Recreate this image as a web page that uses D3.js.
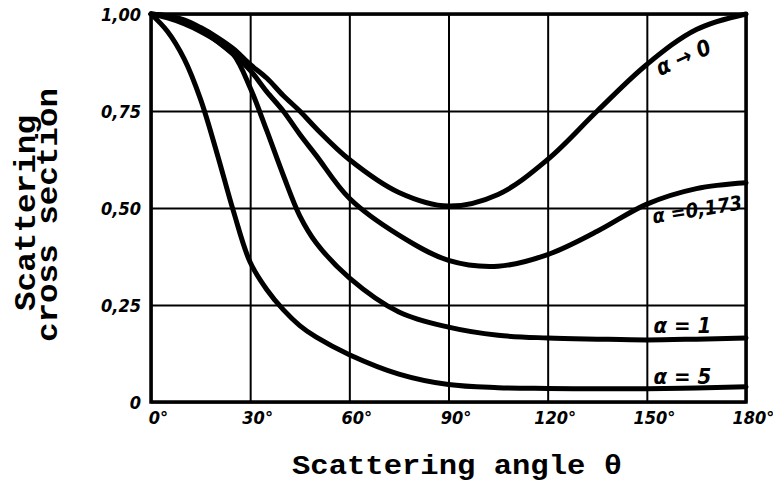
<!DOCTYPE html>
<html>
<head>
<meta charset="utf-8">
<script src="https://cdn.jsdelivr.net/npm/d3@7"></script>
<style>
  body { margin: 0; background: #fff; }
  svg { display: block; }
  .tick text { font-family: "Liberation Sans Narrow", "DejaVu Sans Condensed", sans-serif; font-weight: bold; font-style: italic; }
  .title { font-family: "Liberation Mono", "DejaVu Sans Mono", monospace; font-weight: bold; }
  .lbl { font-family: "Liberation Sans Narrow", "DejaVu Sans Condensed", sans-serif; font-weight: bold; font-style: italic; font-size: 22px; }
</style>
</head>
<body>
<div id="chart"></div>
<script>
// angles (degrees) the curves were read at
var angles = [0, 5, 10, 15, 20, 25, 30, 35, 40, 45, 50, 60, 75, 90, 105, 120, 135, 150, 165, 180];
var alpha0   = [1, 0.995, 0.985, 0.965, 0.94, 0.91, 0.87, 0.835, 0.79, 0.75, 0.705, 0.625, 0.54, 0.505, 0.535, 0.625, 0.75, 0.87, 0.96, 1.0];
var alpha173 = [1, 0.995, 0.983, 0.96, 0.93, 0.895, 0.855, 0.80, 0.75, 0.69, 0.635, 0.525, 0.43, 0.365, 0.35, 0.38, 0.44, 0.51, 0.55, 0.565];
var alpha1   = [1, 0.99, 0.975, 0.955, 0.93, 0.895, 0.81, 0.70, 0.585, 0.48, 0.41, 0.32, 0.232, 0.193, 0.172, 0.165, 0.162, 0.16, 0.162, 0.165];
var alpha5   = [1, 0.955, 0.885, 0.78, 0.64, 0.49, 0.36, 0.29, 0.238, 0.197, 0.167, 0.122, 0.072, 0.045, 0.037, 0.035, 0.034, 0.034, 0.036, 0.039];

var xTicks = [0, 30, 60, 90, 120, 150, 180];
var yTicks = [0, 0.25, 0.5, 0.75, 1];

var width = 773, height = 482;
var svg = d3.select('#chart').append('svg')
  .attr('width', width)
  .attr('height', height);

var x = d3.scaleLinear().domain([0, 180]).range([151, 746]);
var y = d3.scaleLinear().domain([0, 1]).range([402, 14]);

// grid + tick labels via axes
var xAxis = d3.axisBottom(x).tickValues(xTicks)
  .tickSize(-(y(0) - y(1))).tickPadding(6)
  .tickFormat(function(d) { return d + '\u00b0'; });
var yAxis = d3.axisLeft(y).tickValues(yTicks)
  .tickSize(-(x(180) - x(0))).tickPadding(10)
  .tickFormat(function(d) { return d === 0 ? '0' : d.toFixed(2).replace('.', ','); });

var gx = svg.append('g').attr('transform', 'translate(0,' + y(0) + ')').call(xAxis);
var gy = svg.append('g').attr('transform', 'translate(' + x(0) + ',0)').call(yAxis);
[gx, gy].forEach(function(g) {
  g.select('.domain').remove();
  g.selectAll('.tick line').attr('stroke', '#000').attr('stroke-width', 2);
  g.selectAll('.tick text').attr('fill', '#000').style('font-size', '18px');
});
gx.selectAll('.tick text').attr('dx', 7).attr('dy', '0.9em');
gy.selectAll('.tick text').attr('dy', '0.35em');

// frame
svg.append('rect')
  .attr('x', x(0)).attr('y', y(1))
  .attr('width', x(180) - x(0)).attr('height', y(0) - y(1))
  .attr('fill', 'none').attr('stroke', '#000').attr('stroke-width', 3.5);

var series = [alpha0, alpha173, alpha1, alpha5];
var line = d3.line()
  .x(function(d, i) { return x(angles[i]); })
  .y(function(d) { return y(d); })
  .curve(d3.curveCatmullRom.alpha(0.5));

svg.append('g').selectAll('path').data(series)
  .enter().append('path')
  .attr('d', line)
  .attr('fill', 'none')
  .attr('stroke', '#000')
  .attr('stroke-width', 5)
  .attr('stroke-linecap', 'round');

// curve labels
var labels = [
  { t: '\u03b1 \u2192 0', a: 154, v: 0.84, r: -24, s: 22 },
  { t: '\u03b1 =0,173', a: 152, v: 0.46, r: -9, s: 20 },
  { t: '\u03b1 = 1', a: 152, v: 0.178, r: 0, s: 22 },
  { t: '\u03b1 = 5', a: 152, v: 0.046, r: 0, s: 22 }
];
svg.append('g').selectAll('text').data(labels)
  .enter().append('text')
  .attr('class', 'lbl')
  .style('font-size', function(d) { return d.s + 'px'; })
  .attr('transform', function(d) { return 'translate(' + x(d.a) + ',' + y(d.v) + ') rotate(' + d.r + ')'; })
  .text(function(d) { return d.t; });

// axis titles
svg.append('text').attr('class', 'title')
  .attr('x', 292).attr('y', 474)
  .attr('textLength', 330).attr('lengthAdjust', 'spacingAndGlyphs')
  .style('font-size', '28px')
  .text('Scattering angle \u03b8');

svg.append('text').attr('class', 'title')
  .attr('transform', 'translate(35,213) rotate(-90)')
  .attr('text-anchor', 'middle')
  .attr('textLength', 196).attr('lengthAdjust', 'spacingAndGlyphs')
  .style('font-size', '29px')
  .text('Scattering');
svg.append('text').attr('class', 'title')
  .attr('transform', 'translate(57,215) rotate(-90)')
  .attr('text-anchor', 'middle')
  .attr('textLength', 254).attr('lengthAdjust', 'spacingAndGlyphs')
  .style('font-size', '29px')
  .text('cross section');
</script>
</body>
</html>
